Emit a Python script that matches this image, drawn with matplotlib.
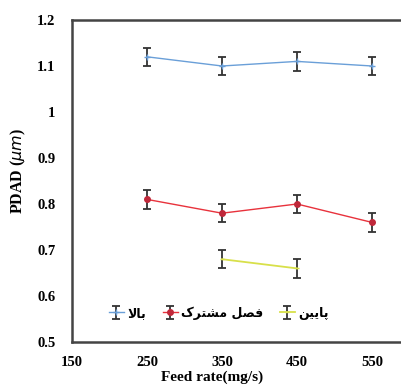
import numpy as np
import matplotlib
matplotlib.use('Agg')
import matplotlib.pyplot as plt

# feed rate (mg/s) and PDAD values per section
feed = [250, 350, 450, 550]
top_vals = [1.12, 1.10, 1.11, 1.10]
mid_vals = [0.81, 0.78, 0.80, 0.76]
low_feed = [350, 450]
low_vals = [0.68, 0.66]
err = 0.02

# persian labels, written with presentation forms in visual order (no shaping in matplotlib)
lab_top = '\uFEFB\uFE8E\uFE91'                       # بالا
lab_mid = '\uFB8E\uFEAE\uFE98\uFEB8\uFEE3 \uFEDE\uFEBC\uFED3'  # فصل مشترک
lab_low = '\uFEE6\uFBFF\uFBFE\uFE8E\uFB58'           # پایین

fig = plt.figure(figsize=(4.02, 3.85), dpi=100)
ax = fig.add_axes([72/402, 43/385, 375/402, 322/385])

ax.errorbar(feed, top_vals, yerr=err, color='#6a9fd8', lw=1, marker='+', ms=5,
            ecolor='#333333', elinewidth=1.3, capsize=3, capthick=1.3, label=lab_top)
ax.errorbar(feed, mid_vals, yerr=err, color='#e8323c', lw=1, marker='o', ms=4,
            mfc='#c0283a', mec='#c0283a', ecolor='#333333', elinewidth=1.3, capsize=3,
            capthick=1.3, label=lab_mid)
ax.errorbar(low_feed, low_vals, yerr=err, color='#d8e04a', lw=1.3, marker='_', ms=3,
            ecolor='#333333', elinewidth=1.3, capsize=3, capthick=1.3, label=lab_low)

ax.set_xlim(150, 650)
ax.set_ylim(0.5, 1.2)
ax.set_xticks([150, 250, 350, 450, 550])
ax.set_yticks([0.5, 0.6, 0.7, 0.8, 0.9, 1.0, 1.1, 1.2])
ax.set_yticklabels(['0.5', '0.6', '0.7', '0.8', '0.9', '1', '1.1', '1.2'])
ax.tick_params(length=0, labelsize=10.5)
ax.tick_params(axis='y', pad=12)
ax.tick_params(axis='x', pad=10)
for t in ax.get_xticklabels() + ax.get_yticklabels():
    t.set_family('Liberation Serif')
    t.set_fontweight('bold')
for s in ax.spines.values():
    s.set_color('#444444')
    s.set_linewidth(1.8)

ax.set_ylabel(r'PDAD ($\mu m$)', family='Liberation Serif', fontweight='bold', fontsize=11.5)
ax.yaxis.set_label_coords(-0.118, 0.53)
fig.text(212/402, 1/385, 'Feed rate(mg/s)', family='Liberation Serif', fontweight='bold',
         fontsize=11, ha='center', va='bottom')

leg = ax.legend(loc='center', bbox_to_anchor=(0.392, 0.09), ncol=3, frameon=False,
                handlelength=1.2, handletextpad=0.3, columnspacing=1.3,
                prop={'family': 'DejaVu Sans', 'weight': 'bold', 'size': 9})

fig.savefig('out.png', dpi=100)
